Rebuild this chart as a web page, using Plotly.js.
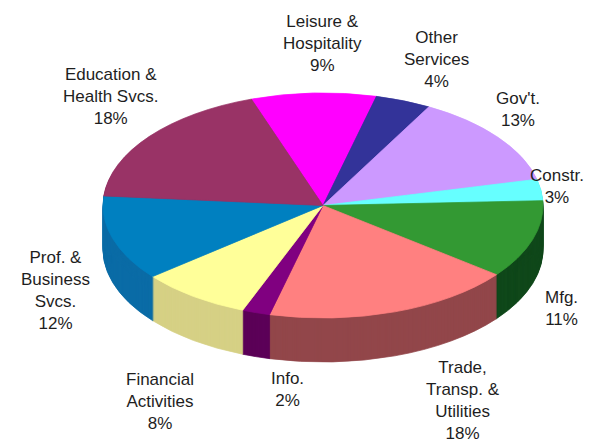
<!DOCTYPE html>
<html>
<head>
<meta charset="utf-8">
<script src="https://cdn.plot.ly/plotly-3.0.1.min.js"></script>
<style>
  html, body { margin: 0; padding: 0; background: #ffffff; }
  #chart { width: 605px; height: 443px; }
</style>
</head>
<body>
<div id="chart"></div>
<script>
// Employment share by sector, clockwise from the top
const sectors = [
  'Leisure &<br>Hospitality',
  'Other<br>Services',
  "Gov't.",
  'Constr.',
  'Mfg.',
  'Trade,<br>Transp. &<br>Utilities',
  'Info.',
  'Financial<br>Activities',
  'Prof. &<br>Business<br>Svcs.',
  'Education &<br>Health Svcs.'
];
const shares = [9, 4, 13, 3, 11, 18, 2, 8, 12, 18];

// face and wall colours for each sector
const faceColors = ['#ff00ff', '#333399', '#cc99ff', '#66ffff', '#339933',
                    '#ff8080', '#800080', '#ffff99', '#0080c0', '#993366'];
const wallColors = ['#b000b0', '#20206a', '#9a70c0', '#3cc0c0', '#10481a',
                    '#92474a', '#5c0058', '#d6d085', '#0b6ca6', '#6a2248'];

// label anchor points (px from top-left) for each sector
const labelPos = [
  [322, 43], [437, 60], [518, 109], [557, 187], [561, 308],
  [463, 400], [287, 389], [160, 401], [55, 290], [110, 97]
];

const W = 605, H = 443;
const centerX = 323, radius = 220;
const faceCenterY = 205.5;   // centre of the top ellipse
const squash = 112.5 / 220;  // vertical/horizontal radius ratio
const depth = 44;            // wall height in px
const layers = 44;

const domainX = [(centerX - radius) / W, (centerX + radius) / W];

function pieTrace(colors) {
  return {
    type: 'pie',
    labels: sectors,
    values: shares,
    sort: false,
    direction: 'clockwise',
    rotation: -19,
    textinfo: 'none',
    hoverinfo: 'skip',
    showlegend: false,
    domain: { x: domainX, y: [0, 1] },
    marker: { colors: colors, line: { color: colors, width: 1 } }
  };
}

const traces = [];
for (let j = layers; j >= 1; j--) traces.push(pieTrace(wallColors));
traces.push(pieTrace(faceColors));

const annotations = sectors.map((name, i) => ({
  xref: 'paper', yref: 'paper',
  x: labelPos[i][0] / W,
  y: 1 - labelPos[i][1] / H,
  xanchor: 'center', yanchor: 'middle',
  showarrow: false,
  align: 'center',
  text: name + '<br>' + shares[i] + '%',
  font: { family: '"Liberation Sans", Arial, sans-serif', size: 17, color: '#1e1e1e' }
}));

const layout = {
  width: W, height: H,
  margin: { l: 0, r: 0, t: 0, b: 0 },
  paper_bgcolor: '#ffffff',
  showlegend: false,
  annotations: annotations
};

Plotly.newPlot('chart', traces, layout, { staticPlot: true, displayModeBar: false }).then(gd => {
  // tilt every pie into an ellipse and stack the wall layers under the face
  const groups = gd.querySelectorAll('.pielayer .trace');
  groups.forEach((g, i) => {
    const cy = gd.calcdata[i][0].cy;
    const j = layers - i; // 0 for the top face
    const y = faceCenterY + depth * Math.max(j, 0) / layers;
    g.setAttribute('transform',
      'translate(0,' + y + ') scale(1,' + squash + ') translate(0,' + (-cy) + ')');
  });
});
</script>
</body>
</html>
